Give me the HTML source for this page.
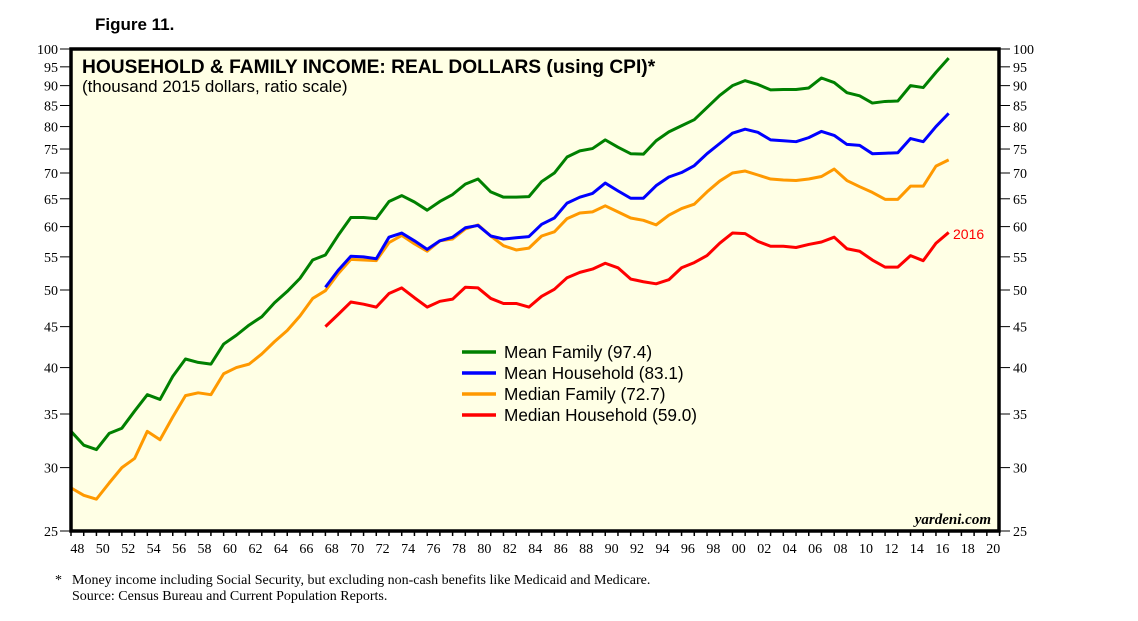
<!DOCTYPE html>
<html><head><meta charset="utf-8"><style>
body{margin:0;background:#fff;width:1138px;height:621px;overflow:hidden}
svg{display:block}
.sans{font-family:"Liberation Sans",sans-serif}
.serif{font-family:"Liberation Serif",serif}
</style></head><body>
<svg width="1138" height="621" viewBox="0 0 1138 621">
<text x="95" y="30" class="sans" font-size="17" font-weight="bold">Figure 11.</text>
<rect x="71" y="49" width="928" height="482" fill="#FFFFE5"/>
<g id="grid"></g>
<g id="series"></g>
<rect x="71" y="49" width="928" height="482" fill="none" stroke="#000" stroke-width="3.5"/>
<text x="82" y="73" class="sans" font-size="19.2" font-weight="bold">HOUSEHOLD &amp; FAMILY INCOME: REAL DOLLARS (using CPI)*</text>
<text x="82" y="92" class="sans" font-size="17">(thousand 2015 dollars, ratio scale)</text>
<g id="legend" class="sans" font-size="17.2"></g>
<text x="953" y="239" class="sans" font-size="14" fill="#f00">2016</text>
<text x="991" y="524" class="serif" font-size="15" font-style="italic" font-weight="bold" text-anchor="end">yardeni.com</text>
<text x="55" y="584" class="serif" font-size="14">*</text>
<text x="72" y="584" class="serif" font-size="14">Money income including Social Security, but excluding non-cash benefits like Medicaid and Medicare.</text>
<text x="72" y="600" class="serif" font-size="14">Source: Census Bureau and Current Population Reports.</text>
</svg>
<script>
const yTicks=[25,30,35,40,45,50,55,60,65,70,75,80,85,90,95,100];
const xTickLabels=["48","50","52","54","56","58","60","62","64","66","68","70","72","74","76","78","80","82","84","86","88","90","92","94","96","98","00","02","04","06","08","10","12","14","16","18","20"];
const years1947=[1947,1948,1949,1950,1951,1952,1953,1954,1955,1956,1957,1958,1959,1960,1961,1962,1963,1964,1965,1966,1967,1968,1969,1970,1971,1972,1973,1974,1975,1976,1977,1978,1979,1980,1981,1982,1983,1984,1985,1986,1987,1988,1989,1990,1991,1992,1993,1994,1995,1996,1997,1998,1999,2000,2001,2002,2003,2004,2005,2006,2007,2008,2009,2010,2011,2012,2013,2014,2015,2016];
const meanFamily=[33.3,32.0,31.6,33.1,33.6,35.3,37.0,36.5,39.0,41.0,40.6,40.4,42.8,43.9,45.2,46.3,48.2,49.8,51.7,54.5,55.3,58.5,61.6,61.6,61.4,64.5,65.6,64.4,62.9,64.5,65.8,67.8,68.8,66.3,65.3,65.3,65.4,68.3,70.0,73.3,74.6,75.1,77.0,75.4,74.0,73.9,76.8,78.8,80.2,81.6,84.5,87.5,90.0,91.3,90.3,88.9,89.0,89.0,89.4,92.0,90.8,88.2,87.4,85.6,86.0,86.1,90.0,89.5,93.5,97.4];
const medianFamily=[28.3,27.7,27.4,28.7,30.0,30.8,33.3,32.5,34.7,36.9,37.2,37.0,39.3,40.0,40.4,41.6,43.1,44.5,46.4,48.8,49.9,52.4,54.6,54.5,54.4,57.3,58.5,57.1,55.9,57.6,57.9,59.6,60.3,58.4,56.8,56.1,56.4,58.4,59.1,61.4,62.4,62.6,63.7,62.6,61.5,61.1,60.3,62.0,63.2,64.0,66.3,68.4,70.0,70.4,69.6,68.8,68.6,68.5,68.8,69.3,70.8,68.5,67.3,66.2,64.9,64.9,67.4,67.4,71.4,72.7];
const years1967=years1947.slice(20);
const meanHousehold=[50.4,52.9,55.1,55.0,54.7,58.2,58.9,57.6,56.2,57.6,58.2,59.8,60.2,58.4,57.9,58.1,58.3,60.4,61.5,64.2,65.3,66.0,68.0,66.5,65.1,65.1,67.5,69.2,70.1,71.5,74.0,76.2,78.5,79.4,78.7,77.0,76.8,76.6,77.5,78.9,78.0,76.0,75.8,74.0,74.1,74.2,77.3,76.6,80.0,83.1];
const medianHousehold=[45.0,46.6,48.3,48.0,47.6,49.5,50.3,48.9,47.6,48.4,48.7,50.4,50.3,48.8,48.1,48.1,47.6,49.1,50.1,51.8,52.6,53.1,54.0,53.3,51.6,51.2,50.9,51.5,53.3,54.1,55.2,57.2,58.9,58.8,57.5,56.7,56.7,56.5,57.0,57.4,58.2,56.3,55.9,54.5,53.4,53.4,55.2,54.4,57.2,59.0];
const legendLabels=["Mean Family (97.4)","Mean Household (83.1)","Median Family (72.7)","Median Household (59.0)"];

const NS="http://www.w3.org/2000/svg";
const X0=71,YW=12.72,YT=49,YB=531;
function xs(y){return X0+(y-1947)*YW;}
function ys(v){return YB-(YB-YT)*Math.log(v/25)/Math.log(4);}
function mk(t,a,p){const e=document.createElementNS(NS,t);for(const k in a)e.setAttribute(k,a[k]);p.appendChild(e);return e;}
const grid=document.getElementById('grid');
yTicks.forEach(v=>{
  const y=ys(v);
  const l=mk('line',{x1:60,x2:71,y1:y,y2:y,stroke:'#000','stroke-width':1},grid);
  
  
  const r=mk('line',{x1:999,x2:1010,y1:y,y2:y,stroke:'#000','stroke-width':1},grid);
  
  
  const t=mk('text',{x:58,y:y+5,'text-anchor':'end','font-size':14,class:'serif'},grid);t.textContent=v;
  
  
  const t2=mk('text',{x:1013,y:y+5,'font-size':14,class:'serif'},grid);t2.textContent=v;
  
  
});
for(let yr=1947;yr<=2020;yr++){
  const k=mk('line',{x1:xs(yr),x2:xs(yr),y1:YB,y2:YB+5,stroke:'#000','stroke-width':1.5},grid);
  
  
}
xTickLabels.forEach((s,i)=>{
  const t=mk('text',{x:xs(1947.5+2*i),y:553,'text-anchor':'middle','font-size':14,class:'serif'},grid);t.textContent=s;
  
  
});
const ser=document.getElementById('series');
function line(yrs,vals,col,name){
  const p=mk('polyline',{points:vals.map((v,i)=>xs(yrs[i])+','+ys(v)).join(' '),fill:'none',stroke:col,'stroke-width':3,'stroke-linejoin':'round'},ser);
  
  
}
line(years1947,medianFamily,'#FF9900','median-family-line');
line(years1967,meanHousehold,'#0000FF','mean-household-line');
line(years1947,meanFamily,'#008000','mean-family-line');
line(years1967,medianHousehold,'#FF0000','median-household-line');
const lg=document.getElementById('legend');
const cols=['#008000','#0000FF','#FF9900','#FF0000'];
legendLabels.forEach((s,i)=>{
  const y=352+i*21;
  const l=mk('line',{x1:462,x2:496,y1:y,y2:y,stroke:cols[i],'stroke-width':3.5},lg);
  
  
  const t=mk('text',{x:504,y:y+6},lg);t.textContent=s;
  
  
});
</script>
</body></html>
